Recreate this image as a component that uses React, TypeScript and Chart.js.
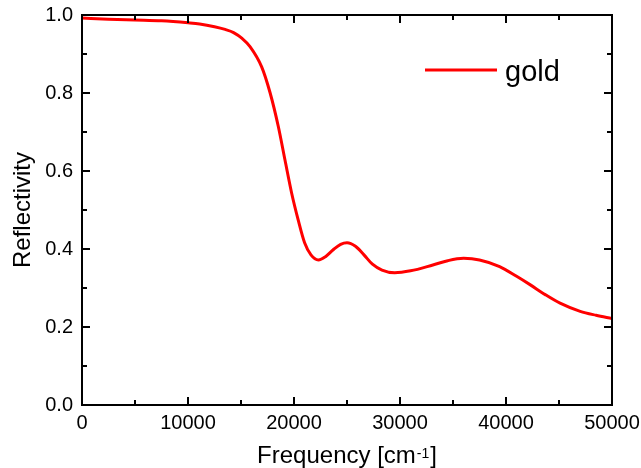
import React, { useEffect, useRef } from "react";
import { Chart, registerables } from "chart.js";

Chart.register(...registerables);

// Reflectivity of gold vs. frequency
const frequency = [
  0, 2500, 5000, 7500, 10000, 11100, 12500, 13500, 14300, 15100, 15850, 16950,
  17750, 18520, 19150, 19780, 20400, 21000, 21600, 22300, 23000, 23700, 24400,
  25000, 25800, 26600, 27400, 28300, 29500, 31000, 33100, 34500, 36000, 37500,
  39400, 41000, 42300, 43700, 45100, 47000, 48500, 50000,
];
const reflectivity = [
  0.992, 0.989, 0.987, 0.985, 0.98, 0.977, 0.97, 0.963, 0.955, 0.94, 0.919,
  0.867, 0.8, 0.714, 0.628, 0.543, 0.474, 0.416, 0.385, 0.372, 0.381, 0.398,
  0.412, 0.416, 0.407, 0.385, 0.361, 0.346, 0.339, 0.344, 0.359, 0.37, 0.376,
  0.372, 0.355, 0.33, 0.308, 0.283, 0.261, 0.24, 0.23, 0.222,
];
const seriesLabel = "gold";

const xMajorTicks = [0, 10000, 20000, 30000, 40000, 50000];
const xMinorTicks = [5000, 15000, 25000, 35000, 45000];
const yMajorTicks = [0, 0.2, 0.4, 0.6, 0.8, 1.0];
const yMinorTicks = [0.1, 0.3, 0.5, 0.7, 0.9];

const xTitleMain = "Frequency [cm";
const xTitleSup = "-1";
const xTitleEnd = "]";
const yTitle = "Reflectivity";

const FONT = "'Liberation Sans', Arial, sans-serif";

// Box frame with inward ticks on all four sides, legend and x-axis title.
const framePlugin = {
  id: "originFrame",
  afterDraw(chart: any) {
    const { ctx, chartArea, scales } = chart;
    const { left, right, top, bottom } = chartArea;
    const xs = scales.x;
    const ys = scales.y;
    ctx.save();
    ctx.strokeStyle = "#000";
    ctx.lineWidth = 2;
    ctx.lineCap = "butt";
    ctx.strokeRect(left, top, right - left, bottom - top);

    const major = 8;
    const minor = 5;
    ctx.beginPath();
    const xTick = (v: number, len: number) => {
      const px = Math.round(xs.getPixelForValue(v));
      ctx.moveTo(px, bottom);
      ctx.lineTo(px, bottom - len);
      ctx.moveTo(px, top);
      ctx.lineTo(px, top + len);
    };
    const yTick = (v: number, len: number) => {
      const py = Math.round(ys.getPixelForValue(v));
      ctx.moveTo(left, py);
      ctx.lineTo(left + len, py);
      ctx.moveTo(right, py);
      ctx.lineTo(right - len, py);
    };
    xMajorTicks.forEach((v) => xTick(v, major));
    xMinorTicks.forEach((v) => xTick(v, minor));
    yMajorTicks.forEach((v) => yTick(v, major));
    yMinorTicks.forEach((v) => yTick(v, minor));
    ctx.stroke();

    // legend
    const ds = chart.data.datasets[0];
    ctx.strokeStyle = ds.borderColor;
    ctx.lineWidth = 3;
    ctx.beginPath();
    ctx.moveTo(425, 70);
    ctx.lineTo(497, 70);
    ctx.stroke();
    ctx.fillStyle = "#000";
    ctx.font = `29px ${FONT}`;
    ctx.textAlign = "left";
    ctx.textBaseline = "alphabetic";
    ctx.fillText(ds.label, 505, 81);

    // x-axis title with superscript
    const mainFont = `24px ${FONT}`;
    const supFont = `14px ${FONT}`;
    ctx.font = mainFont;
    const wMain = ctx.measureText(xTitleMain).width;
    const wEnd = ctx.measureText(xTitleEnd).width;
    ctx.font = supFont;
    const wSup = ctx.measureText(xTitleSup).width;
    const total = wMain + wSup + 2 + wEnd;
    let x = (left + right) / 2 - total / 2;
    const base = 463;
    ctx.font = mainFont;
    ctx.fillText(xTitleMain, x, base);
    x += wMain + 1;
    ctx.font = supFont;
    ctx.fillText(xTitleSup, x, base - 5);
    x += wSup + 1;
    ctx.font = mainFont;
    ctx.fillText(xTitleEnd, x, base);
    ctx.restore();
  },
};

export default function App() {
  const canvasRef = useRef<HTMLCanvasElement | null>(null);

  useEffect(() => {
    const canvas = canvasRef.current;
    if (!canvas) return;
    const points = frequency.map((f, i) => ({ x: f, y: reflectivity[i] }));
    const chart = new Chart(canvas, {
      type: "line",
      data: {
        datasets: [
          {
            label: seriesLabel,
            data: points,
            borderColor: "#ff0000",
            borderWidth: 3,
            pointRadius: 0,
            fill: false,
            cubicInterpolationMode: "monotone",
          },
        ],
      },
      options: {
        responsive: false,
        animation: false,
        devicePixelRatio: 1,
        layout: { padding: { left: 0, top: 15, right: 29, bottom: 0 } },
        plugins: {
          legend: { display: false },
          tooltip: { enabled: false },
        },
        scales: {
          x: {
            type: "linear",
            min: 0,
            max: 50000,
            grid: { display: false, drawTicks: false },
            border: { display: false },
            ticks: {
              stepSize: 10000,
              padding: 6,
              color: "#000",
              font: { family: FONT, size: 20 },
              maxRotation: 0,
              callback: (v: any) => String(v),
            },
            afterFit: (scale: any) => {
              scale.height = 63;
              scale.paddingLeft = 0;
              scale.paddingRight = 0;
            },
          },
          y: {
            type: "linear",
            min: 0,
            max: 1,
            grid: { display: false, drawTicks: false },
            border: { display: false },
            ticks: {
              stepSize: 0.2,
              padding: 9,
              color: "#000",
              font: { family: FONT, size: 20 },
              callback: (v: any) => Number(v).toFixed(1),
            },
            title: {
              display: true,
              text: yTitle,
              color: "#000",
              font: { family: FONT, size: 24 },
              padding: { top: 9, bottom: 0 },
            },
            afterFit: (scale: any) => {
              scale.width = 82;
              scale.paddingTop = 0;
              scale.paddingBottom = 0;
            },
          },
        },
      },
      plugins: [framePlugin],
    });
    return () => chart.destroy();
  }, []);

  return (
    <div style={{ position: "absolute", left: 0, top: 0, width: 641, height: 468, background: "#fff" }}>
      <canvas ref={canvasRef} width={641} height={468} style={{ display: "block" }} />
    </div>
  );
}
